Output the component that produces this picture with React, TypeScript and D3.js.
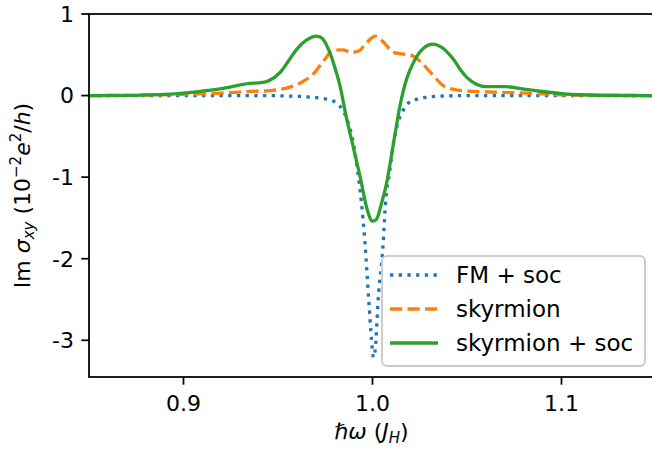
import React, { useEffect, useRef } from "react";
import * as d3 from "d3";

// FM + soc (dotted blue)
const fmX = [0.85, 0.9, 0.94, 0.955, 0.965, 0.972, 0.978, 0.981, 0.984, 0.987, 0.99, 0.992, 0.994, 0.996, 0.998, 0.9995, 1.0005, 1.0015, 1.003, 1.0055, 1.007, 1.009, 1.011, 1.013, 1.016, 1.019, 1.024, 1.029, 1.035, 1.05, 1.1, 1.15];
const fmY = [0, 0, 0, -0.005, -0.015, -0.03, -0.06, -0.09, -0.17, -0.32, -0.6, -0.9, -1.28, -1.8, -2.5, -3.0, -3.21, -3.1, -2.5, -1.86, -1.28, -0.95, -0.6, -0.37, -0.19, -0.09, -0.04, -0.02, -0.008, 0, 0, 0];

// skyrmion (dashed orange)
const skX = [0.85, 0.88, 0.9, 0.92, 0.935, 0.945, 0.951, 0.957, 0.963, 0.9685, 0.974, 0.979, 0.984, 0.989, 0.993, 0.997, 1.0015, 1.006, 1.011, 1.016, 1.021, 1.026, 1.032, 1.037, 1.043, 1.05, 1.06, 1.075, 1.09, 1.1, 1.12, 1.15];
const skY = [0, 0.005, 0.015, 0.03, 0.05, 0.06, 0.075, 0.11, 0.17, 0.26, 0.42, 0.55, 0.56, 0.53, 0.55, 0.65, 0.73, 0.65, 0.53, 0.51, 0.49, 0.4, 0.25, 0.13, 0.075, 0.055, 0.045, 0.035, 0.02, 0.01, 0.003, 0];

// skyrmion + soc (solid green)
const sksX = [0.85, 0.87, 0.88, 0.89, 0.9, 0.91, 0.92, 0.93, 0.935, 0.94, 0.945, 0.951, 0.956, 0.96, 0.965, 0.9705, 0.9735, 0.977, 0.98, 0.983, 0.986, 0.99, 0.9935, 0.997, 1.0, 1.002, 1.005, 1.0075, 1.011, 1.0145, 1.018, 1.022, 1.027, 1.032, 1.036, 1.04, 1.043, 1.047, 1.05, 1.055, 1.06, 1.065, 1.07, 1.08, 1.09, 1.1, 1.11, 1.12, 1.15];
const sksY = [0, 0.002, 0.008, 0.015, 0.03, 0.055, 0.085, 0.13, 0.15, 0.155, 0.18, 0.28, 0.44, 0.57, 0.68, 0.73, 0.7, 0.55, 0.35, 0.1, -0.25, -0.65, -1.0, -1.38, -1.54, -1.52, -1.3, -1.07, -0.6, -0.13, 0.2, 0.42, 0.58, 0.63, 0.6, 0.52, 0.44, 0.3, 0.22, 0.14, 0.11, 0.11, 0.11, 0.08, 0.05, 0.025, 0.01, 0.004, 0];

const xTicks = [0.9, 1.0, 1.1];
const yTicks = [1, 0, -1, -2, -3];

const series = [
  { name: "FM + soc", xs: fmX, ys: fmY, color: "#1f77b4", dash: "3.3,5.4" },
  { name: "skyrmion", xs: skX, ys: skY, color: "#ff7f0e", dash: "12.2,5.3" },
  { name: "skyrmion + soc", xs: sksX, ys: sksY, color: "#2ca02c", dash: null },
];

const App = () => {
  const ref = useRef<SVGSVGElement>(null);

  useEffect(() => {
    const left = 89, top = 14, bottom = 377, right = 656;
    const font = "DejaVu Sans";
    const fs = 22;

    const svg = d3.select(ref.current);
    svg.selectAll("*").remove();

    const x = d3.scaleLinear().domain([0.85, 1.15]).range([left, right]);
    const y = d3.scaleLinear().domain([-3.45, 1]).range([bottom, top]);

    const plot = svg.append("g");
    plot.append("clipPath").attr("id", "clip")
      .append("rect").attr("x", left).attr("y", top).attr("width", right - left).attr("height", bottom - top);

    const line = d3.line<[number, number]>()
      .x((d) => x(d[0]))
      .y((d) => y(d[1]))
      .curve(d3.curveMonotoneX);

    series.forEach((s) => {
      const pts = s.xs.map((v, i) => [v, s.ys[i]] as [number, number]);
      plot.append("path")
        .attr("d", line(pts))
        .attr("fill", "none")
        .attr("stroke", s.color)
        .attr("stroke-width", 3.3)
        .attr("stroke-dasharray", s.dash)
        .attr("clip-path", "url(#clip)");
    });

    // spines
    svg.append("rect").attr("x", left).attr("y", top).attr("width", right - left).attr("height", bottom - top)
      .attr("stroke", "#000").attr("stroke-width", 1.76).attr("fill", "none");

    // x ticks
    xTicks.forEach((t) => {
      svg.append("line").attr("x1", x(t)).attr("x2", x(t)).attr("y1", bottom).attr("y2", bottom + 7.7)
        .attr("stroke", "#000").attr("stroke-width", 1.76);
      svg.append("text").attr("x", x(t)).attr("y", 411).attr("text-anchor", "middle")
        .attr("font-family", font).attr("font-size", fs).text(t.toFixed(1));
    });

    // y ticks
    yTicks.forEach((t) => {
      svg.append("line").attr("x1", left - 7.7).attr("x2", left).attr("y1", y(t)).attr("y2", y(t))
        .attr("stroke", "#000").attr("stroke-width", 1.76);
      svg.append("text").attr("x", left - 15).attr("y", y(t)).attr("dy", "0.36em").attr("text-anchor", "end")
        .attr("font-family", font).attr("font-size", fs).text(String(t));
    });

    // x label
    const xl = svg.append("text").attr("x", (left + right) / 2 - 1).attr("y", 439).attr("text-anchor", "middle")
      .attr("font-family", font).attr("font-size", fs);
    xl.append("tspan").attr("font-style", "italic").text("\u210F\u03C9");
    xl.append("tspan").text(" (");
    xl.append("tspan").attr("font-style", "italic").text("J");
    xl.append("tspan").attr("font-style", "italic").attr("font-size", 15).attr("dy", 4).text("H");
    xl.append("tspan").attr("dy", -4).text(")");

    // y label
    const yl = svg.append("text").attr("transform", `translate(30,${(top + bottom) / 2}) rotate(-90)`)
      .attr("text-anchor", "middle").attr("font-family", font).attr("font-size", fs);
    yl.append("tspan").text("Im ");
    yl.append("tspan").attr("font-style", "italic").text("\u03C3");
    yl.append("tspan").attr("font-style", "italic").attr("font-size", 15).attr("dy", 4).text("xy");
    yl.append("tspan").attr("dy", -4).text(" (10");
    yl.append("tspan").attr("font-size", 15).attr("dy", -9).text("\u22122");
    yl.append("tspan").attr("font-style", "italic").attr("dy", 9).text("e");
    yl.append("tspan").attr("font-size", 15).attr("dy", -9).text("2");
    yl.append("tspan").attr("dy", 9).text("/");
    yl.append("tspan").attr("font-style", "italic").text("h");
    yl.append("tspan").text(")");

    // legend
    const lg = svg.append("g");
    lg.append("rect").attr("x", 382).attr("y", 256).attr("width", 263).attr("height", 110).attr("rx", 5)
      .attr("fill", "#fff").attr("fill-opacity", 0.8).attr("stroke", "#cccccc").attr("stroke-width", 2);
    series.forEach((s, i) => {
      const ly = 275 + i * 34;
      lg.append("line").attr("x1", 390).attr("x2", 438).attr("y1", ly).attr("y2", ly)
        .attr("stroke", s.color).attr("stroke-width", 3.3).attr("stroke-dasharray", s.dash);
      lg.append("text").attr("x", 456).attr("y", ly).attr("dy", "0.36em")
        .attr("font-family", font).attr("font-size", 23).text(s.name);
    });
  }, []);

  return (
    <svg ref={ref} width={652} height={451}
      style={{ position: "absolute", left: 0, top: 0, background: "#fff" }} />
  );
};

export default App;
